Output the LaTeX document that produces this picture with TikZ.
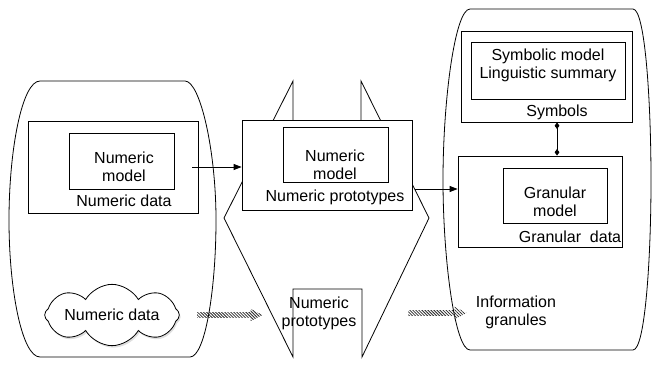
\documentclass[tikz,border=0pt]{standalone}
\usepackage{fontspec}
\setmainfont{Liberation Sans}
\usetikzlibrary{shapes, shapes.symbols, arrows.meta, positioning, calc, patterns.meta, shadows}

\newcommand{\figfont}{\fontsize{12}{13.5}\selectfont}

\begin{document}
\begin{tikzpicture}[x=0.75pt, y=-0.75pt, line width=0.6pt,
  box/.style={rectangle, draw, fill=white, inner sep=0pt},
  txt/.style={align=center, font=\figfont, inner sep=2pt},
  link/.style={-{Triangle[length=6pt, width=4.5pt]}},
  dots/.style={{Diamond[length=5pt, width=3.5pt]}-{Diamond[length=5pt, width=3.5pt]}},
  hatched/.style={pattern={Lines[angle=-45, distance=1.6pt, line width=0.6pt]}, pattern color=black!85,
    to path={let \p1=(\tikztostart), \p2=(\tikztotarget) in
      (\x1,\y1+2.2pt) -- (\x2-9pt,\y1+2.2pt) -- (\x2-9pt,\y1+4.6pt) -- (\x2,\y1)
      -- (\x2-9pt,\y1-4.6pt) -- (\x2-9pt,\y1-2.2pt) -- (\x1,\y1-2.2pt) -- cycle}}]

\useasboundingbox (0,0) rectangle (653,368);

\draw (40,81) -- (185,81) .. controls (200,81) and (216,150) .. (216,220)
  .. controls (216,290) and (205,357) .. (190,357) -- (40,357)
  .. controls (22,357) and (9,290) .. (9,220) .. controls (9,150) and (22,81) .. (40,81);
\draw (470,9) -- (633,9) .. controls (645,9) and (651,100) .. (651,180)
  .. controls (651,260) and (645,350) .. (633,350) -- (470,350)
  .. controls (455,350) and (443,260) .. (443,180) .. controls (443,100) and (455,9) .. (470,9);

\draw (293,125) -- (293,81) -- (224,218) -- (293,357) -- (293,289) -- (362,289)
  -- (362,357) -- (429,218) -- (361,81) -- (361,125);

\node[box, minimum width=127.5pt, minimum height=69pt] (ndata) at (113,167) {};
\node[box, minimum width=78.75pt, minimum height=42pt] (nmodel) at (121.5,161) {};
\node[txt] (nmodeltxt) at (124,167) {Numeric\\model};
\node[txt] (ndatatxt) at (124,201) {Numeric data};

\node[box, minimum width=127.5pt, minimum height=67.5pt] (nproto) at (327,165) {};
\node[box, minimum width=78.75pt, minimum height=41.25pt] (pmodel) at (335.5,154.5) {};
\node[txt] (pmodeltxt) at (335,165) {Numeric\\model};
\node[txt] (nprototxt) at (335,197) {Numeric prototypes};
\node[txt] (protob) at (319,313) {Numeric\\prototypes};

\node[box, minimum width=128.25pt, minimum height=68.25pt] (symb) at (546.5,76.5) {};
\node[box, minimum width=115.5pt, minimum height=42.75pt] (smodel) at (548,70.5) {};
\node[txt] (smodeltxt) at (548,65) {Symbolic model\\Linguistic summary};
\node[txt] (symbtxt) at (557,112) {Symbols};

\node[box, minimum width=123pt, minimum height=68.25pt] (gdata) at (540,201.5) {};
\node[box, minimum width=78pt, minimum height=41.25pt] (gmodel) at (555,195.5) {};
\node[txt] (gmodeltxt) at (555,202) {Granular\\model};
\node[txt] (gdatatxt) at (570,237) {Granular~ data};

\node[txt] (info) at (516,312) {Information\\granules};
\node[cloud, cloud puffs=8, cloud puff arc=120, cloud ignores aspect, draw, fill=white, inner sep=0pt,
  minimum width=101pt, minimum height=46pt, font=\figfont,
  drop shadow={opacity=0.25, shadow xshift=1pt, shadow yshift=-1.5pt}] (ncloud) at (112,315) {Numeric data};

\coordinate (mid) at (415,189);
\draw[link] ([xshift=-4.5pt]ndata.east) -- (nproto.west |- ndata.east);
\draw[link] (mid) -- (gdata.west |- mid);
\draw[dots] ([xshift=7.9pt]symb.south) -- ([xshift=7.9pt]symb.south |- gdata.north);

\path[hatched] ([xshift=13pt]ncloud.east) to ([xshift=-12pt]protob.west);
\path[hatched] ([xshift=36.75pt]protob.east) to ([xshift=-4.7pt]info.west);

\end{tikzpicture}
\end{document}
